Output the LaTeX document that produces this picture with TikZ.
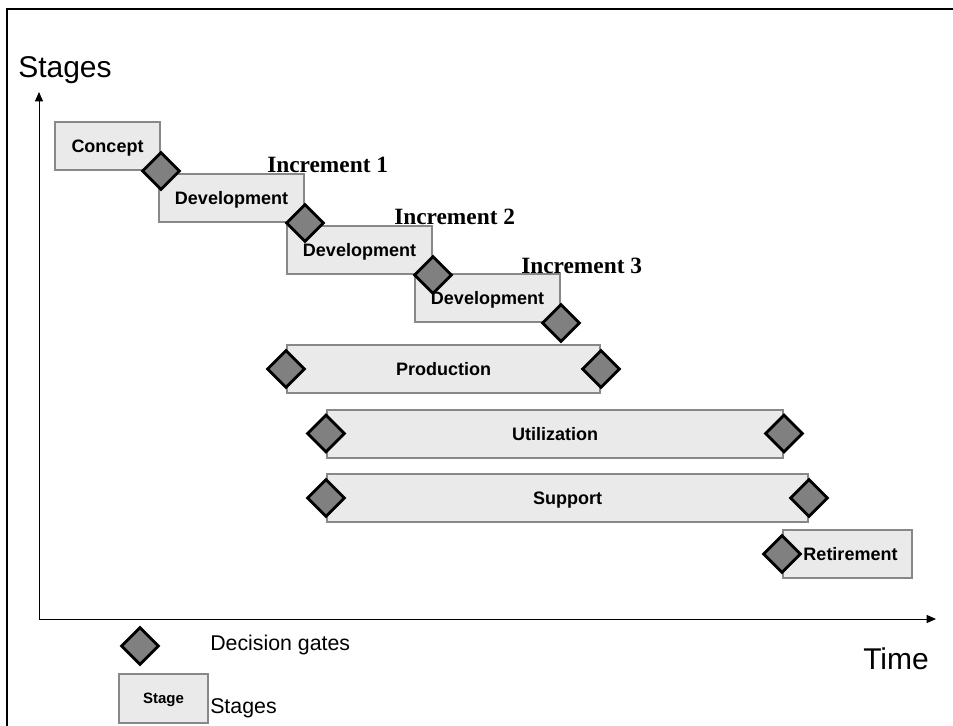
\documentclass[tikz,border=0pt]{standalone}
\usepackage{fontspec}
\setmainfont{Liberation Sans}
\newfontfamily\incfont{Liberation Serif}
\usetikzlibrary{arrows.meta, shapes.geometric, calc}
\definecolor{stagefill}{RGB}{234,234,234}
\definecolor{stageline}{RGB}{136,136,136}
\definecolor{gatefill}{RGB}{128,128,128}
\tikzset{
  stagebox/.style={draw=stageline, fill=stagefill, line width=1.5pt, minimum height=36pt, inner sep=0pt,
    text depth=0pt, font=\fontsize{13.5}{16}\selectfont\bfseries},
  gate/.style={diamond, draw=black, fill=gatefill, line width=2.2pt, minimum width=28.5pt, minimum height=28.5pt, inner sep=0pt},
  increment/.style={font=\incfont\bfseries\fontsize{17.5}{20}\selectfont, anchor=base west, inner sep=0pt},
  axislabel/.style={font=\fontsize{22.5}{26}\selectfont, anchor=base west, inner sep=0pt},
  legendtext/.style={font=\fontsize{16}{19}\selectfont, anchor=base west, inner sep=0pt},
  axis/.style={line width=0.75pt, -{Triangle[length=7pt,width=6pt]}}
}

\begin{document}
\begin{tikzpicture}[x=0.75pt, y=-0.75pt]
  \useasboundingbox (0,0) rectangle (953,725);
  % frame (cut at the right and bottom)
  \draw[line width=1.5pt] (7,727) -- (7,9) -- (956,9);
  % axes
  \coordinate (origin) at (39,619);
  \coordinate (ytip) at (39,92);
  \coordinate (xtip) at (936,619);
  \draw[axis] (origin) -- (ytip);
  \draw[axis] (origin) -- (xtip);
  \node[axislabel] (ylab) at (18,77) {Stages};
  \node[axislabel] (xlab) at (863,669) {Time};
  % stages
  \node[stagebox, minimum width=78.75pt] (concept) at (107.5,146) {Concept};
  \node[stagebox, minimum width=108.75pt] (dev1) at (231.5,198) {Development};
  \node[stagebox, minimum width=108.75pt] (dev2) at (359.5,250) {Development};
  \node[stagebox, minimum width=108.75pt] (dev3) at (487.5,298) {Development};
  \node[stagebox, minimum width=234.75pt] (prod) at (443.5,369) {Production};
  \node[stagebox, minimum width=342pt] (util) at (555,433.5) {Utilization};
  \node[stagebox, minimum width=360.75pt] (supp) at (567.5,498) {Support};
  \node[stagebox, minimum width=96.75pt] (retire) at (847.5,554) {\hspace*{4.5pt}Retirement};
  % increments
  \node[increment] (inc1) at ($(dev1.north east)+(-38,-1)$) {Increment 1};
  \node[increment] (inc2) at ($(dev2.north east)+(-39,-1)$) {Increment 2};
  \node[increment] (inc3) at ($(dev3.north east)+(-40,0)$) {Increment 3};
  % decision gates
  \foreach \anc [count=\i] in {concept.south east, dev1.south east, dev2.south east, dev3.south east,
      prod.west, prod.east, util.west, util.east, supp.west, supp.east, retire.west}
    \node[gate] (gate\i) at (\anc) {};
  % legend
  \node[gate] (gatekey) at (140,646) {};
  \node[legendtext] (gatekeytext) at (210,650) {Decision gates};
  \node[stagebox, minimum width=66.75pt, minimum height=36.75pt, font=\fontsize{11.25}{13}\selectfont\bfseries] (stagekey) at (163.5,698.5) {Stage};
  \node[legendtext] (stagekeytext) at (210,713) {Stages};
\end{tikzpicture}
\end{document}
